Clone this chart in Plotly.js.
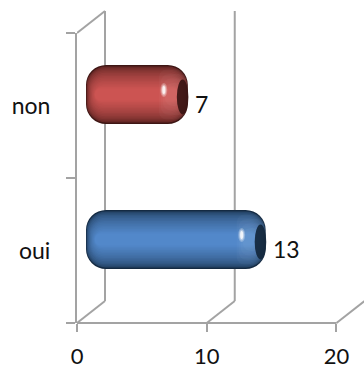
<!DOCTYPE html>
<html><head><meta charset="utf-8">
<script src="https://cdn.plot.ly/plotly-3.0.1.min.js"></script>
<style>html,body{margin:0;padding:0;background:#fff}#c{width:364px;height:368px}</style>
</head><body><div id="c"></div>
<script>
const categories = ['oui','non'];
const values = [13,7];
const xTicks = [0,10,20];
const xMax = 22.12;
const pxX = 287/xMax, pxY = 145;
const depthX = 28/pxX, depthYPaper = 22/290;
const shiftX = 20/pxX, shiftY = 11/pxY;
const leftEnd = -11/pxX;
const edge = {oui:[20,42,66], non:[62,22,20]};
const body = {oui:[82,136,202], non:[204,84,82]};
const lerp=(a,b,t)=>a.map((v,i)=>Math.round(v+(b[i]-v)*t));
const rgb=c=>`rgb(${c.join(',')})`;
const traces=[];
const N=16;
for(let i=0;i<N;i++){
  const t=i/(N-1);
  const h=59*(1-0.8*t);
  const inset=9*t/pxX;
  const s=Math.pow(t,0.45);
  const colors=categories.map(c=>rgb(lerp(edge[c],body[c],s)));
  traces.push({type:'bar',orientation:'h',xaxis:'x2',yaxis:'y2',y:categories,
    x:values.map(v=>v-leftEnd-2*inset),base:values.map(()=>leftEnd+inset),width:h/pxY,
    marker:{color:colors,cornerradius:Math.max(3,20-12*t),line:{width:0}},hoverinfo:'skip'});
}
// lighter rim band near the right end
for(let i=0;i<4;i++){
  const w=28-2*i;
  traces.push({type:'bar',orientation:'h',xaxis:'x2',yaxis:'y2',y:categories,
    x:values.map(()=>w/pxX),base:values.map(v=>v-(w+1)/pxX),width:(50-9*i)/pxY,
    marker:{color:'rgba(255,255,255,0.028)',cornerradius:8,line:{width:0}},hoverinfo:'skip'});
}

const gray='#a3a3a3';
const ln={color:gray,width:2};
const shapes=[];
xTicks.forEach(v=>{
  shapes.push({type:'line',xref:'x',yref:'paper',x0:v,x1:v+depthX,y0:0,y1:depthYPaper,line:ln,layer:'below'});
  if(v<20) shapes.push({type:'line',xref:'x',yref:'paper',x0:v+depthX,x1:v+depthX,y0:depthYPaper,y1:1+depthYPaper,line:ln,layer:'below'});
});
shapes.push({type:'line',xref:'x',yref:'paper',x0:0,x1:depthX,y0:1,y1:1+depthYPaper,line:ln,layer:'below'});
shapes.push({type:'line',xref:'x',yref:'paper',x0:0,x1:20,y0:0,y1:0,line:ln,layer:'below'});
// dark end caps and specular highlights
categories.forEach((c,k)=>{
  shapes.push({type:'circle',xref:'x2',yref:'y2',layer:'above',
    x0:values[k]-11/pxX,x1:values[k]+0.6/pxX,y0:k-20/pxY,y1:k+15/pxY,
    fillcolor:rgb(lerp(edge[c],[0,0,0],0.1)),opacity:0.92,line:{width:0}});
  [[3.5,7,0.25],[2.5,5.5,0.4],[1.5,4,0.8]].forEach(([rx,ry,op])=>{
    shapes.push({type:'circle',xref:'x2',yref:'y2',layer:'above',
      x0:values[k]-(24+rx)/pxX,x1:values[k]-(24-rx)/pxX,y0:k+(4.5-ry)/pxY,y1:k+(4.5+ry)/pxY,
      fillcolor:'#fff',opacity:op,line:{width:0}});
  });
});
// value labels
const annotations=categories.map((c,k)=>({xref:'x2',yref:'y',x:values[k],y:c,text:String(values[k]),
  showarrow:false,xanchor:'left',xshift:5,yshift:2,font:{family:'Lato, Carlito, sans-serif',size:23,color:'#111'}}));

const layout={width:364,height:368,margin:{l:77,r:0,t:33,b:45},paper_bgcolor:'#fff',plot_bgcolor:'rgba(0,0,0,0)',
  showlegend:false,barmode:'overlay',shapes,annotations,
  font:{family:'Lato, Carlito, sans-serif',size:23,color:'#111'},
  xaxis:{range:[0,xMax],tickvals:xTicks,ticktext:xTicks.map(String),ticks:'outside',ticklen:8,tickwidth:2,tickcolor:gray,
    showgrid:false,zeroline:false,showline:false,ticklabelstandoff:6,tickfont:{size:22}},
  yaxis:{type:'category',categoryorder:'array',categoryarray:categories,range:[-0.5,1.5],ticks:'outside',ticklen:9,tickwidth:2,tickcolor:gray,tickson:'boundaries',
    showgrid:false,zeroline:false,showline:true,linecolor:gray,linewidth:2,ticklabelstandoff:20,tickfont:{size:23}},
  xaxis2:{overlaying:'x',anchor:'y',range:[-shiftX,xMax-shiftX],visible:false},
  yaxis2:{overlaying:'y',anchor:'x',type:'category',categoryorder:'array',categoryarray:categories,range:[-0.5-shiftY,1.5-shiftY],visible:false}
};
Plotly.newPlot('c',traces,layout,{displayModeBar:false,staticPlot:true});
</script></body></html>
